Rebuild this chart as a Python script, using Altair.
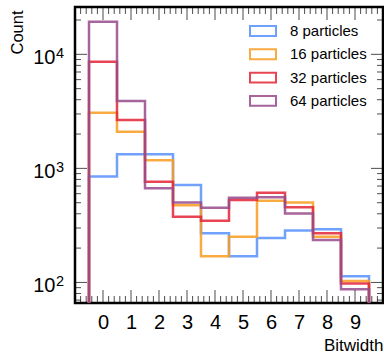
import altair as alt
import pandas as pd

# ---- data ----
bins = [0, 1, 2, 3, 4, 5, 6, 7, 8, 9]
series = ["8 particles", "16 particles", "32 particles", "64 particles"]
colors = ["#5790fc", "#f89c20", "#e42536", "#964a8b"]
counts_8 = [850, 1330, 1330, 715, 270, 170, 245, 285, 292, 113]
counts_16 = [3080, 2090, 1180, 476, 170, 251, 520, 503, 252, 103]
counts_32 = [8610, 2660, 763, 376, 347, 527, 611, 457, 270, 98]
counts_64 = [19300, 3890, 668, 503, 451, 552, 557, 403, 235, 87]
all_counts = [counts_8, counts_16, counts_32, counts_64]

y_exponents = ["2", "3", "4"]
y_major = [100, 1000, 10000]
y_minor = [70, 80, 90, 200, 300, 400, 500, 600, 700, 800, 900,
           2000, 3000, 4000, 5000, 6000, 7000, 8000, 9000, 20000]
x_major = [0, 1, 2, 3, 4, 5, 6, 7, 8, 9]
x_minor = [round(-1 + 0.2 * k, 2) for k in range(56) if k % 5 != 0]

Y_MIN, Y_MAX = 66, 26000
X_MIN, X_MAX = -1, 10
FONT = "Liberation Sans"

# step-histogram outline points
rows = []
for name, counts in zip(series, all_counts):
    rows.append({"series": name, "edge": bins[0] - 0.5, "count": Y_MIN, "idx": 0})
    for i, (b, c) in enumerate(zip(bins, counts)):
        rows.append({"series": name, "edge": b - 0.5, "count": c, "idx": i + 1})
    rows.append({"series": name, "edge": bins[-1] + 0.5, "count": Y_MIN, "idx": 11})
df = pd.DataFrame(rows)

xs = alt.Scale(domain=[X_MIN, X_MAX], nice=False, zero=False)
ys = alt.Scale(type="log", domain=[Y_MIN, Y_MAX], nice=False)

x_axis = alt.Axis(
    values=bins, title="Bitwidth", ticks=False, domain=False, grid=False,
    labelOverlap=False, labelFlush=False, labelBound=False,
    labelFontSize=20, labelFont=FONT, labelColor="black", labelPadding=9,
    titleFont=FONT, titleFontSize=17, titleFontWeight="normal", titleColor="black",
    titleX=308, titleY=47, titleAlign="right", titleBaseline="alphabetic")
y_axis = alt.Axis(
    title="Count", labels=False, ticks=False, domain=False, grid=False,
    titleFont=FONT, titleFontSize=16.5, titleFontWeight="normal", titleColor="black",
    titleX=-57.5, titleY=3, titleAngle=270, titleAlign="right", titleBaseline="middle")

lines = alt.Chart(df).mark_line(
    interpolate="step-after", strokeWidth=2.5, opacity=0.85, clip=True
).encode(
    x=alt.X("edge:Q", scale=xs, axis=x_axis),
    y=alt.Y("count:Q", scale=ys, axis=y_axis),
    color=alt.Color("series:N", scale=alt.Scale(domain=series, range=colors),
                    legend=alt.Legend(
                        orient="none", legendX=174, legendY=10, title=None,
                        symbolType="M-1,-0.38H1V0.38H-1Z", symbolSize=676,
                        symbolStrokeWidth=2, symbolOpacity=0.85,
                        labelFont=FONT, labelFontSize=15, labelColor="black",
                        labelOffset=13, rowPadding=0.3, padding=0)),
    order="idx:Q",
)

def xticks(values, length, at):
    return alt.Chart(pd.DataFrame({"edge": values})).mark_tick(
        orient="vertical", size=2 * length, thickness=1, color="black", clip=True
    ).encode(x=alt.X("edge:Q", scale=xs, axis=x_axis),
             y=alt.Y(datum=at, scale=ys, axis=y_axis))

def yticks(values, length, at):
    return alt.Chart(pd.DataFrame({"count": values})).mark_tick(
        orient="horizontal", size=2 * length, thickness=1, color="black", clip=True
    ).encode(y=alt.Y("count:Q", scale=ys, axis=y_axis),
             x=alt.X(datum=at, scale=xs, axis=x_axis))

ticks = [
    xticks(x_major, 13, Y_MIN), xticks(x_minor, 7, Y_MIN),
    xticks(x_major, 13, Y_MAX), xticks(x_minor, 7, Y_MAX),
    yticks(y_major, 12, X_MIN), yticks(y_minor, 6, X_MIN),
    yticks(y_major, 12, X_MAX), yticks(y_minor, 6, X_MAX),
]

ylab_df = pd.DataFrame({"count": y_major, "base": ["10"] * 3, "exp": y_exponents})
ybase = alt.Chart(ylab_df).mark_text(
    align="right", baseline="alphabetic", dx=-19.5, dy=10, fontSize=20, font=FONT, color="black"
).encode(x=alt.X(datum=X_MIN, scale=xs, axis=x_axis),
         y=alt.Y("count:Q", scale=ys, axis=y_axis), text="base:N")
yexp = alt.Chart(ylab_df).mark_text(
    align="left", baseline="alphabetic", dx=-19, dy=3.5, fontSize=14.5, font=FONT, color="black"
).encode(x=alt.X(datum=X_MIN, scale=xs, axis=x_axis),
         y=alt.Y("count:Q", scale=ys, axis=y_axis), text="exp:N")

chart = alt.layer(lines, *ticks, ybase, yexp).properties(
    width=308, height=296,
    autosize=alt.AutoSizeParams(type="none"),
    padding={"left": 75, "top": 7, "right": 1, "bottom": 50},
    background="white",
).configure_view(stroke="black", strokeWidth=2.5).configure_axis(labelOverlap=False)

chart.save("out.html", embed_options={"renderer": "svg", "actions": False})
